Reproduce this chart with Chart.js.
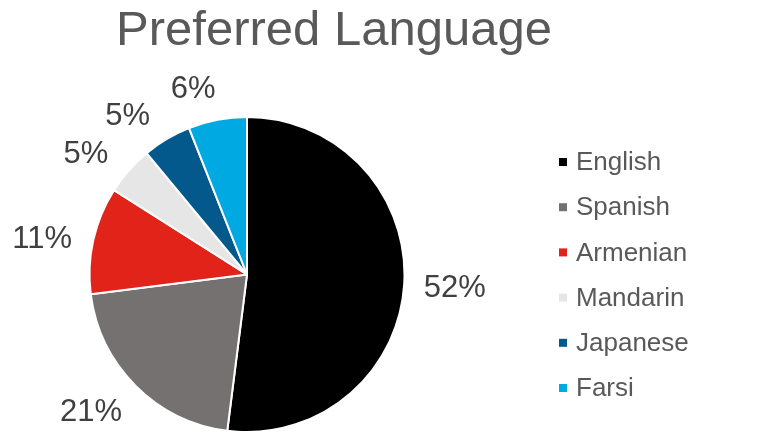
<!DOCTYPE html>
<html>
<head>
<meta charset="utf-8">
<script src="https://cdn.jsdelivr.net/npm/chart.js@4.4.0/dist/chart.umd.min.js"></script>
<style>
html,body{margin:0;padding:0;background:#fff;}
#wrap{width:782px;height:433px;position:relative;}
</style>
</head>
<body>
<div id="wrap"><canvas id="c" width="782" height="433"></canvas></div>
<script>
const title = "Preferred Language";
const categories = ["English", "Spanish", "Armenian", "Mandarin", "Japanese", "Farsi"];
const values = [52, 21, 11, 5, 5, 6];
const colors = ["#000000", "#767171", "#e2231a", "#e7e6e6", "#03598c", "#00a9e2"];

const FONT = '"Liberation Sans", Arial, Helvetica, sans-serif';
// label placement tweaks (degrees), mimicking the spreadsheet's label collision avoidance
const labelNudgeDeg = [0, 3.8, -2.6, -4.6, -6.2, -5.3];

const decor = {
  id: 'decor',
  afterDraw(chart) {
    const ctx = chart.ctx;
    ctx.save();
    // title
    ctx.fillStyle = '#595959';
    ctx.font = '49px ' + FONT;
    ctx.textAlign = 'center';
    ctx.textBaseline = 'alphabetic';
    ctx.fillText(title, 334, 45);

    // outside-end labels
    const meta = chart.getDatasetMeta(0);
    const total = values.reduce((a, b) => a + b, 0);
    ctx.font = '31px ' + FONT;
    ctx.fillStyle = '#404040';
    ctx.textAlign = 'center';
    ctx.textBaseline = 'middle';
    meta.data.forEach((arc, i) => {
      const p = arc.getProps(['x', 'y', 'startAngle', 'endAngle', 'outerRadius'], true);
      const mid = (p.startAngle + p.endAngle) / 2 + labelNudgeDeg[i] * Math.PI / 180;
      const txt = Math.round(values[i] / total * 100) + '%';
      const hw = ctx.measureText(txt).width / 2;
      const hh = 11.5;
      const c = Math.cos(mid), s = Math.sin(mid);
      const d = p.outerRadius + 19 + Math.abs(c) * hw + Math.abs(s) * hh;
      ctx.fillText(txt, p.x + c * d, p.y + s * d + 1);
    });

    // legend
    ctx.font = '26px ' + FONT;
    ctx.textAlign = 'left';
    ctx.textBaseline = 'middle';
    categories.forEach((name, i) => {
      const cy = 162 + i * 45.2;
      ctx.fillStyle = colors[i];
      ctx.fillRect(559, cy - 4, 8, 8);
      ctx.fillStyle = '#595959';
      ctx.fillText(name, 576, cy + 1);
    });
    ctx.restore();
  }
};

new Chart(document.getElementById('c'), {
  type: 'pie',
  data: {
    labels: categories,
    datasets: [{
      data: values,
      backgroundColor: colors,
      borderColor: '#ffffff',
      borderWidth: 2,
      hoverOffset: 0,
      offset: 0
    }]
  },
  options: {
    responsive: false,
    animation: false,
    events: [],
    layout: { padding: { top: 116, left: 88, right: 376, bottom: 0 } },
    plugins: {
      legend: { display: false },
      title: { display: false },
      tooltip: { enabled: false }
    }
  },
  plugins: [decor]
});
</script>
</body>
</html>
